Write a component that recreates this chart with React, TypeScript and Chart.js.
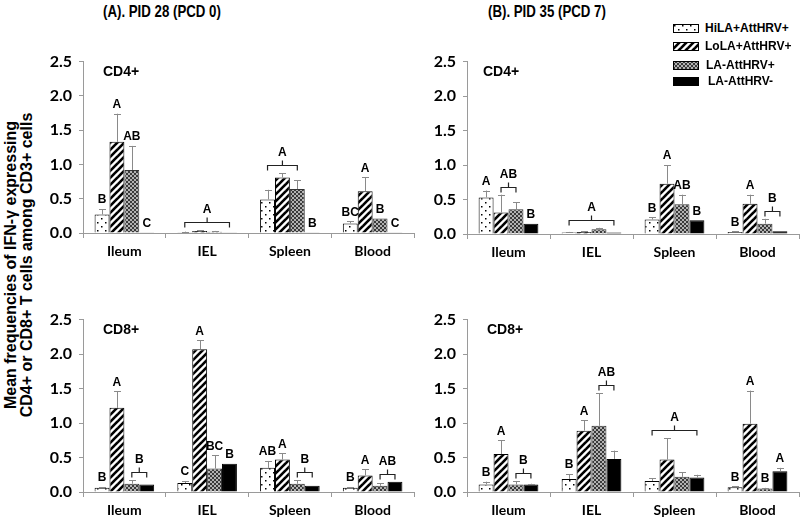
import React, { useEffect, useRef } from "react";
import { Chart, registerables } from "chart.js";
Chart.register(...registerables);

const categories = ["Ileum", "IEL", "Spleen", "Blood"];
const seriesNames = ["HiLA+AttHRV+", "LoLA+AttHRV+", "LA-AttHRV+", "LA-AttHRV-"];
const yTicks = [0, 0.5, 1.0, 1.5, 2.0, 2.5];

// (A) PID 28, CD4+
const aCd4HiLA = [0.27, 0.01, 0.49, 0.14];
const aCd4HiLAErr = [0.08, 0.01, 0.14, 0.03];
const aCd4LoLA = [1.33, 0.03, 0.81, 0.61];
const aCd4LoLAErr = [0.41, 0.01, 0.06, 0.2];
const aCd4LAPos = [0.92, 0.02, 0.64, 0.21];
const aCd4LAPosErr = [0.35, 0.01, 0.13, 0.0];
const aCd4LANeg = [0.005, 0.005, 0.01, 0.01];
const aCd4LANegErr = [0, 0, 0, 0];
const aCd4Marks: [number, number, number, string][] = [
  [0, 0, 0, "B"], [0, 1, 1, "A"], [0, 2, 2, "AB"], [0, 3, 3, "C"],
  [1, 0, 3, "A"],
  [2, 0, 2, "A"], [2, 3, 3, "B"],
  [3, 0, 0, "BC"], [3, 1, 1, "A"], [3, 2, 2, "B"], [3, 3, 3, "C"],
];

// (A) PID 28, CD8+
const aCd8HiLA = [0.06, 0.13, 0.35, 0.06];
const aCd8HiLAErr = [0.01, 0.03, 0.1, 0.01];
const aCd8LoLA = [1.22, 2.07, 0.47, 0.24];
const aCd8LoLAErr = [0.24, 0.13, 0.09, 0.09];
const aCd8LAPos = [0.12, 0.34, 0.12, 0.09];
const aCd8LAPosErr = [0.05, 0.19, 0.05, 0.04];
const aCd8LANeg = [0.11, 0.41, 0.09, 0.15];
const aCd8LANegErr = [0, 0, 0, 0];
const aCd8Marks: [number, number, number, string][] = [
  [0, 0, 0, "B"], [0, 1, 1, "A"], [0, 2, 3, "B"],
  [1, 0, 0, "C"], [1, 1, 1, "A"], [1, 2, 2, "BC"], [1, 3, 3, "B"],
  [2, 0, 0, "AB"], [2, 1, 1, "A"], [2, 2, 3, "B"],
  [3, 0, 0, "B"], [3, 1, 1, "A"], [3, 2, 3, "AB"],
];

// (B) PID 35, CD4+
const bCd4HiLA = [0.53, 0.02, 0.21, 0.03];
const bCd4HiLAErr = [0.1, 0.01, 0.03, 0.01];
const bCd4LoLA = [0.31, 0.03, 0.73, 0.44];
const bCd4LoLAErr = [0.26, 0.01, 0.27, 0.13];
const bCd4LAPos = [0.36, 0.07, 0.43, 0.15];
const bCd4LAPosErr = [0.1, 0.02, 0.14, 0.07];
const bCd4LANeg = [0.15, 0.02, 0.2, 0.04];
const bCd4LANegErr = [0, 0, 0, 0];
const bCd4Marks: [number, number, number, string][] = [
  [0, 0, 0, "A"], [0, 1, 2, "AB"], [0, 3, 3, "B"],
  [1, 0, 3, "A"],
  [2, 0, 0, "B"], [2, 1, 1, "A"], [2, 2, 2, "AB"], [2, 3, 3, "B"],
  [3, 0, 0, "B"], [3, 1, 1, "A"], [3, 2, 3, "B"],
];

// (B) PID 35, CD8+
const bCd8HiLA = [0.11, 0.19, 0.16, 0.07];
const bCd8HiLAErr = [0.04, 0.07, 0.04, 0.01];
const bCd8LoLA = [0.55, 0.89, 0.47, 0.99];
const bCd8LoLAErr = [0.2, 0.15, 0.31, 0.48];
const bCd8LAPos = [0.11, 0.96, 0.22, 0.05];
const bCd8LAPosErr = [0.05, 0.47, 0.07, 0.01];
const bCd8LANeg = [0.11, 0.48, 0.21, 0.3];
const bCd8LANegErr = [0.01, 0.12, 0.04, 0.05];
const bCd8Marks: [number, number, number, string][] = [
  [0, 0, 0, "B"], [0, 1, 1, "A"], [0, 2, 3, "B"],
  [1, 0, 0, "B"], [1, 1, 1, "A"], [1, 2, 3, "AB"],
  [2, 0, 3, "A"],
  [3, 0, 0, "B"], [3, 1, 1, "A"], [3, 2, 2, "B"], [3, 3, 3, "A"],
];

function makeFill(kind: number): CanvasPattern | string {
  if (kind === 3) return "#000000";
  const c = document.createElement("canvas");
  const g = c.getContext("2d")!;
  if (kind === 0) {
    c.width = 8; c.height = 8;
    g.fillStyle = "#ffffff"; g.fillRect(0, 0, 8, 8);
    g.fillStyle = "#000000";
    g.fillRect(1, 1, 1.5, 1.5); g.fillRect(5, 5, 1.5, 1.5);
  } else if (kind === 1) {
    c.width = 7; c.height = 7;
    g.fillStyle = "#ffffff"; g.fillRect(0, 0, 7, 7);
    g.strokeStyle = "#000000"; g.lineWidth = 2.6;
    for (const o of [-7, 0, 7]) {
      g.beginPath(); g.moveTo(o - 1, 8); g.lineTo(o + 8, -1); g.stroke();
    }
  } else {
    c.width = 4; c.height = 4;
    g.fillStyle = "#3a3a3a"; g.fillRect(0, 0, 4, 4);
    g.fillStyle = "#b2b2b2"; g.fillRect(0, 0, 2, 2); g.fillRect(2, 2, 2, 2);
  }
  return g.createPattern(c, "repeat")!;
}

type PanelProps = {
  values: number[][];
  errs: number[][];
  marks: [number, number, number, string][];
  label: string;
  labelDx: number;
  left: number; top: number; width: number; height: number;
  padTop: number; padRight: number; yWidth: number; xHeight: number;
};

function Panel(p: PanelProps) {
  const ref = useRef<HTMLCanvasElement>(null);
  useEffect(() => {
    const fills = [0, 1, 2, 3].map(makeFill);
    const overlay = {
      id: "overlay",
      afterDatasetsDraw(chart: any) {
        const ctx = chart.ctx;
        const ys = chart.scales.y;
        const ca = chart.chartArea;
        const barAt = (ds: number, cat: number) => chart.getDatasetMeta(ds).data[cat];
        const topOf = (ds: number, cat: number) => ys.getPixelForValue(p.values[ds][cat] + p.errs[ds][cat]);
        ctx.save();
        // error bars
        ctx.strokeStyle = "#8a8a8a";
        ctx.lineWidth = 1;
        for (let ds = 0; ds < 4; ds++) {
          for (let cat = 0; cat < 4; cat++) {
            if (p.errs[ds][cat] <= 0) continue;
            const b = barAt(ds, cat);
            const yTop = topOf(ds, cat);
            const x = Math.round(b.x) + 0.5;
            ctx.beginPath();
            ctx.moveTo(x, b.y);
            ctx.lineTo(x, yTop);
            ctx.moveTo(x - 3.5, Math.round(yTop) + 0.5);
            ctx.lineTo(x + 3.5, Math.round(yTop) + 0.5);
            ctx.stroke();
          }
        }
        // letters and brackets
        ctx.fillStyle = "#000";
        ctx.font = "bold 12px 'Liberation Sans', Arial, sans-serif";
        ctx.textAlign = "center";
        ctx.textBaseline = "bottom";
        ctx.strokeStyle = "#222";
        ctx.lineWidth = 1.2;
        for (const [cat, from, to, text] of p.marks) {
          let top = Infinity;
          for (let ds = from; ds <= to; ds++) top = Math.min(top, topOf(ds, cat), barAt(ds, cat).y);
          if (from === to) {
            ctx.fillText(text, barAt(from, cat).x, top - 3);
          } else {
            const x1 = barAt(from, cat).x;
            const x2 = barAt(to, cat).x;
            const ly = Math.round(top - 8) + 0.5;
            const mx = (x1 + x2) / 2;
            ctx.beginPath();
            ctx.moveTo(x1, ly + 5); ctx.lineTo(x1, ly); ctx.lineTo(x2, ly); ctx.lineTo(x2, ly + 5);
            ctx.moveTo(mx, ly); ctx.lineTo(mx, ly - 5);
            ctx.stroke();
            ctx.fillText(text, mx, ly - 7);
          }
        }
        // panel label
        ctx.font = "bold 14px 'Liberation Sans', Arial, sans-serif";
        ctx.textAlign = "left";
        ctx.textBaseline = "middle";
        ctx.fillText(p.label, ca.left + p.labelDx, ca.top + 11);
        ctx.restore();
      },
    };
    const chart = new Chart(ref.current!, {
      type: "bar",
      data: {
        labels: categories,
        datasets: seriesNames.map((name, i) => ({
          label: name,
          data: p.values[i],
          backgroundColor: fills[i] as any,
          borderColor: i === 2 ? "#333333" : "#000000",
          borderWidth: 1,
          categoryPercentage: 0.72,
          barPercentage: 1.0,
        })),
      },
      options: {
        animation: false,
        responsive: false,
        maintainAspectRatio: false,
        devicePixelRatio: 1,
        layout: { padding: { top: p.padTop, right: p.padRight, left: 0, bottom: 0 } },
        plugins: { legend: { display: false }, tooltip: { enabled: false } },
        scales: {
          x: {
            grid: { offset: true, drawOnChartArea: false, color: "#9a9a9a", tickLength: 5 },
            border: { color: "#9a9a9a" },
            ticks: {
              color: "#000",
              font: { family: "Lato, 'Open Sans', sans-serif", weight: "bold", size: 14 },
              padding: 5,
              maxRotation: 0,
            },
            afterFit: (s: any) => { s.height = p.xHeight; },
          },
          y: {
            min: 0,
            max: 2.5,
            afterBuildTicks: (s: any) => { s.ticks = yTicks.map((v) => ({ value: v })); },
            ticks: {
              color: "#000",
              font: { family: "Lato, 'Open Sans', sans-serif", weight: "bold", size: 16 },
              padding: 7,
              callback: (v: any) => Number(v).toFixed(1),
            },
            grid: { drawOnChartArea: false, color: "#9a9a9a", tickLength: 4 },
            border: { color: "#9a9a9a" },
            afterFit: (s: any) => { s.width = p.yWidth; },
          },
        },
      },
      plugins: [overlay],
    } as any);
    return () => chart.destroy();
  }, []);
  return (
    <canvas
      ref={ref}
      width={p.width}
      height={p.height}
      style={{ position: "absolute", left: p.left, top: p.top, width: p.width, height: p.height }}
    />
  );
}

function Swatch({ kind }: { kind: number }) {
  const ref = useRef<HTMLCanvasElement>(null);
  useEffect(() => {
    const g = ref.current!.getContext("2d")!;
    g.fillStyle = makeFill(kind) as any;
    g.fillRect(0, 0, 26, 9);
    g.strokeStyle = "#000";
    g.lineWidth = 1;
    g.strokeRect(0.5, 0.5, 25, 8);
  }, []);
  return <canvas ref={ref} width={26} height={9} style={{ display: "block" }} />;
}

const bold = "'Liberation Sans', Arial, sans-serif";

const titleStyle: React.CSSProperties = {
  position: "absolute",
  top: 2,
  fontFamily: bold,
  fontWeight: "bold",
  fontSize: 17,
  whiteSpace: "nowrap",
  transform: "scaleX(0.78)",
  transformOrigin: "left center",
};

export default function App() {
  const legendY = [28, 46, 65, 81];
  const legendTextX = [705, 705, 706, 708];
  return (
    <div style={{ position: "absolute", left: 0, top: 0, width: 800, height: 517, background: "#fff", overflow: "hidden" }}>
      <div style={{ ...titleStyle, left: 103 }}>(A). PID 28 (PCD 0)</div>
      <div style={{ ...titleStyle, left: 488 }}>(B). PID 35 (PCD 7)</div>
      <div
        style={{
          position: "absolute", left: 20 - 170, top: 265 - 17, width: 340, height: 34,
          transform: "rotate(-90deg)", textAlign: "center", fontFamily: bold, fontWeight: "bold",
          fontSize: 16, lineHeight: "16px", whiteSpace: "nowrap",
        }}
      >
        Mean frequencies of IFN-γ expressing<br />CD4+ or CD8+ T cells among CD3+ cells
      </div>
      <Panel values={[aCd4HiLA, aCd4LoLA, aCd4LAPos, aCd4LANeg]} errs={[aCd4HiLAErr, aCd4LoLAErr, aCd4LAPosErr, aCd4LANegErr]}
        marks={aCd4Marks} label="CD4+" labelDx={20}
        left={40} top={45} width={380} height={220} padTop={10} padRight={6} yWidth={43} xHeight={32} />
      <Panel values={[bCd4HiLA, bCd4LoLA, bCd4LAPos, bCd4LANeg]} errs={[bCd4HiLAErr, bCd4LoLAErr, bCd4LAPosErr, bCd4LANegErr]}
        marks={bCd4Marks} label="CD4+" labelDx={16}
        left={424} top={45} width={376} height={220} padTop={10} padRight={1} yWidth={43} xHeight={31} />
      <Panel values={[aCd8HiLA, aCd8LoLA, aCd8LAPos, aCd8LANeg]} errs={[aCd8HiLAErr, aCd8LoLAErr, aCd8LAPosErr, aCd8LANegErr]}
        marks={aCd8Marks} label="CD8+" labelDx={20}
        left={40} top={303} width={380} height={214} padTop={10} padRight={6} yWidth={43} xHeight={25} />
      <Panel values={[bCd8HiLA, bCd8LoLA, bCd8LAPos, bCd8LANeg]} errs={[bCd8HiLAErr, bCd8LoLAErr, bCd8LAPosErr, bCd8LANegErr]}
        marks={bCd8Marks} label="CD8+" labelDx={20}
        left={424} top={303} width={376} height={214} padTop={10} padRight={1} yWidth={43} xHeight={25} />
      {seriesNames.map((name, i) => (
        <React.Fragment key={name}>
          <div style={{ position: "absolute", left: 673, top: legendY[i] - 4 }}>
            <Swatch kind={i} />
          </div>
          <div style={{ position: "absolute", left: legendTextX[i], top: legendY[i] - 8, fontFamily: bold, fontWeight: "bold", fontSize: 12, lineHeight: "16px", whiteSpace: "nowrap" }}>
            {name}
          </div>
        </React.Fragment>
      ))}
    </div>
  );
}
